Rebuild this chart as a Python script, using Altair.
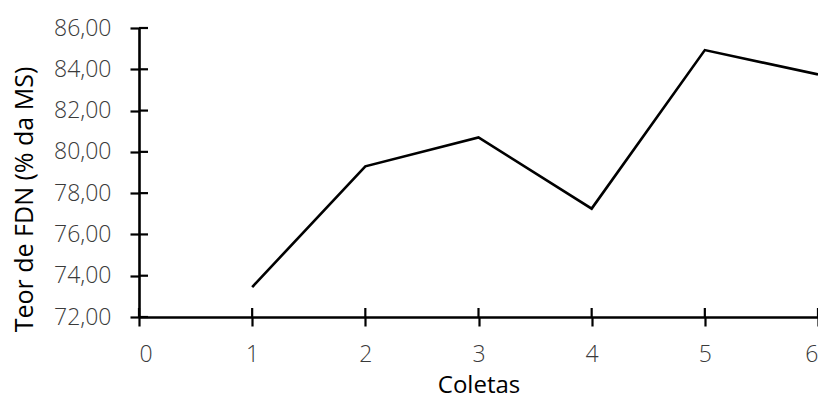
import altair as alt
import pandas as pd

coletas = [1, 2, 3, 4, 5, 6]
fdn = [73.45, 79.30, 80.70, 77.25, 84.93, 83.75]
y_ticks = [72, 74, 76, 78, 80, 82, 84, 86]
x_ticks = [0, 1, 2, 3, 4, 5, 6]

W, H = 679, 289
FONT = "Open Sans"

df = pd.DataFrame({"Coletas": coletas, "FDN": fdn})
yt = pd.DataFrame({"v": y_ticks})
xt = pd.DataFrame({"v": x_ticks})

xscale = alt.Scale(domain=[0, 6], nice=False, zero=False)
yscale = alt.Scale(domain=[72, 86], nice=False, zero=False)

common = dict(grid=False, domainColor="black", domainWidth=2.6,
              tickColor="black", tickWidth=2.2, tickSize=9,
              labelFontSize=23, labelFont=FONT,
              labelFontWeight=300, labelColor="#3a3a3a",
              titleFont=FONT, titleFontWeight="normal",
              titleColor="black")

line = alt.Chart(df).mark_line(color="black", strokeWidth=2.6).encode(
    x=alt.X("Coletas:Q", scale=xscale,
            axis=alt.Axis(values=x_ticks, format="d", title="Coletas",
                          labelPadding=17, titlePadding=7, titleFontSize=24,
                          **common)),
    y=alt.Y("FDN:Q", scale=yscale,
            axis=alt.Axis(values=y_ticks, title="Teor de FDN (% da MS)",
                          labelExpr="replace(format(datum.value, '.2f'), '.', ',')",
                          labelPadding=19, titleX=-102, titleY=171,
                          titleFontSize=25,
                          titleAngle=270, titleAlign="center", **common)),
)

ytick_in = alt.Chart(yt).mark_rule(color="black", strokeWidth=2.2).encode(
    y=alt.Y("v:Q", scale=yscale),
    x=alt.value(0), x2=alt.value(9),
)
xtick_in = alt.Chart(xt).mark_rule(color="black", strokeWidth=2.2).encode(
    x=alt.X("v:Q", scale=xscale),
    y=alt.value(H - 9), y2=alt.value(H),
)

chart = alt.layer(line, ytick_in, xtick_in).properties(
    width=W, height=H,
    autosize=alt.AutoSizeParams(type="none"),
    padding={"left": 131, "top": 20, "right": 0, "bottom": 78},
    view=alt.ViewBackground(strokeOpacity=0, strokeWidth=0),
).configure_view(strokeWidth=0, strokeOpacity=0).configure(background="white")

chart.save("out.html", embed_options={"renderer": "svg", "actions": False})
